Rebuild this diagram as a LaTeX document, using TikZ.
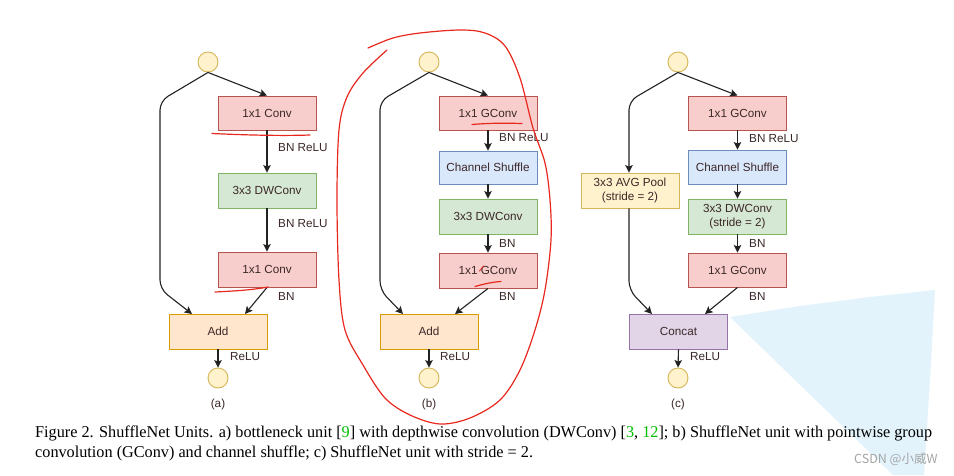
\documentclass[tikz,border=0pt]{standalone}
\usepackage{fontspec}
\setmainfont{Liberation Serif}
\setsansfont{Liberation Sans}
\newfontfamily\cjkfont{Noto Sans CJK SC}
\usetikzlibrary{arrows.meta}
\definecolor{txt}{RGB}{60,40,40}
\definecolor{linec}{RGB}{34,34,34}
\definecolor{pinkF}{HTML}{F8CECC}\definecolor{pinkD}{HTML}{B85450}
\definecolor{greenF}{HTML}{D5E8D4}\definecolor{greenD}{HTML}{82B366}
\definecolor{blueF}{HTML}{DAE8FC}\definecolor{blueD}{HTML}{6C8EBF}
\definecolor{orangeF}{HTML}{FFE6CC}\definecolor{orangeD}{HTML}{D79B00}
\definecolor{yelF}{HTML}{FFF2CC}\definecolor{yelD}{HTML}{D6B656}
\definecolor{purF}{HTML}{E1D5E7}\definecolor{purD}{HTML}{9673A6}
\definecolor{citeg}{RGB}{0,190,0}
\definecolor{redpen}{RGB}{232,40,30}
\definecolor{skyblue}{HTML}{E2F3FC}
\newsavebox\capboxA
\newsavebox\capboxB
\newlength\caplenA
\newcommand\mycapA{Figure 2. ShuffleNet Units. a) bottleneck unit [{\color{citeg}9}] with depthwise convolution (DWConv) [{\color{citeg}3}, {\color{citeg}12}]; b) ShuffleNet unit with pointwise group}
\newcommand\mycapB{convolution (GConv) and channel shuffle; c) ShuffleNet unit with stride = 2.}
\tikzset{
  box/.style={draw, line width=0.9pt, minimum width=98pt, minimum height=34pt, inner sep=0pt,
    font=\sffamily\fontsize{11.7}{13.5}\selectfont, text=txt, align=center},
  pinkbox/.style={box, fill=pinkF, draw=pinkD},
  greenbox/.style={box, fill=greenF, draw=greenD},
  bluebox/.style={box, fill=blueF, draw=blueD},
  orangebox/.style={box, fill=orangeF, draw=orangeD},
  yelbox/.style={box, fill=yelF, draw=yelD},
  purbox/.style={box, fill=purF, draw=purD},
  circ/.style={circle, minimum size=20pt, inner sep=0pt, fill=yelF, draw=yelD, line width=0.9pt},
  lbl/.style={font=\sffamily\fontsize{11.7}{13.5}\selectfont, text=txt, anchor=west, inner sep=0pt},
  sub/.style={font=\sffamily\fontsize{11.7}{13.5}\selectfont, text=txt, inner sep=0pt},
  conn/.style={draw=linec, line width=1.1pt},
  arr/.style={conn, -{Stealth[length=7.5pt,width=7.5pt,inset=1.5pt]}},
  pen/.style={draw=redpen, line width=1.2pt, line cap=round, line join=round}
}
\begin{document}
\sbox\capboxA{\fontsize{16.5}{20}\selectfont\mycapA}%
\sbox\capboxB{\fontsize{16.5}{20}\selectfont\mycapB}%
\setlength\caplenA{\wd\capboxA}%
\pgfmathsetmacro\capsx{897pt/\caplenA}%
\begin{tikzpicture}[x=1pt,y=-1pt]
\useasboundingbox (0,0) rectangle (954,475);
\fill[white] (0,0) rectangle (954,475);
% light blue screen artifact
\fill[skyblue] (730,317) -- (800,306) -- (870,297) -- (935,290) -- (930,380) -- (924,475) -- (893,475) -- cycle;

% ---------- (a) ----------
\node[circ] (a0) at (208,62) {};
\node[pinkbox] (a1) at (267,113) {1x1 Conv};
\node[greenbox, minimum height=35pt] (a2) at (267,190.5) {3x3 DWConv};
\node[pinkbox, minimum height=35pt] (a3) at (267,269.5) {1x1 Conv};
\node[orangebox, minimum height=35pt] (aadd) at (218,331.5) {Add};
\node[circ] (aout) at (218,378) {};
\node[sub] (alab) at (218,404) {(a)};
\coordinate (aL1) at (160,101);
\coordinate (aL2) at (160,289);
\coordinate (aIn) at (192,314);
\coordinate (aIn2) at (245,314);
\draw[arr] (a0.south) -- (a1.north);
\draw[arr, rounded corners=9pt] (a0.south) -- (aL1) -- (aL2) -- (aIn);
\draw[arr] (a1.south) -- (a2.north);
\draw[arr] (a2.south) -- (a3.north);
\draw[arr] (a3.south) -- (aIn2);
\draw[arr] (aadd.south) -- (aout.north);
\node[lbl] (alb1) at (278,148) {BN ReLU};
\node[lbl] (alb2) at (278,224) {BN ReLU};
\node[lbl] (alb3) at (278,296) {BN};
\node[lbl] (alb4) at (230,357) {ReLU};

% ---------- (b) ----------
\node[circ] (b0) at (429,62) {};
\node[pinkbox] (b1) at (488,113) {1x1 GConv};
\node[bluebox, minimum height=33pt] (b2) at (488,167.5) {Channel Shuffle};
\node[greenbox, minimum height=35pt] (b3) at (488,216.5) {3x3 DWConv};
\node[pinkbox, minimum height=35pt] (b4) at (488,270.5) {1x1 GConv};
\node[orangebox, minimum height=35pt] (badd) at (429,331.5) {Add};
\node[circ] (bout) at (429,378) {};
\node[sub] (blab) at (429,404) {(b)};
\coordinate (bL1) at (380,101);
\coordinate (bL2) at (380,290);
\coordinate (bIn) at (403,314);
\coordinate (bIn2) at (455,314);
\draw[arr] (b0.south) -- (b1.north);
\draw[arr, rounded corners=9pt] (b0.south) -- (bL1) -- (bL2) -- (bIn);
\draw[arr] (b1.south) -- (b2.north);
\draw[arr] (b2.south) -- (b3.north);
\draw[arr] (b3.south) -- (b4.north);
\draw[arr] (b4.south) -- (bIn2);
\draw[arr] (badd.south) -- (bout.north);
\node[lbl] (blb1) at (499,138) {BN ReLU};
\node[lbl] (blb2) at (499,243) {BN};
\node[lbl] (blb3) at (499,296) {BN};
\node[lbl] (blb4) at (440,357) {ReLU};

% ---------- (c) ----------
\node[circ] (c0) at (678,62) {};
\node[pinkbox] (c1) at (737.5,113) {1x1 GConv};
\node[bluebox] (c2) at (737.5,167) {Channel Shuffle};
\node[greenbox, minimum height=35pt] (c3) at (737.5,216.5) {3x3 DWConv\\(stride = 2)};
\node[pinkbox] (c4) at (737.5,270) {1x1 GConv};
\node[yelbox, minimum height=35pt] (cpool) at (630,190.5) {3x3 AVG Pool\\(stride = 2)};
\node[purbox, minimum height=35pt] (ccat) at (678.5,331.5) {Concat};
\node[circ] (cout) at (678,378) {};
\node[sub] (clab) at (678,404) {(c)};
\coordinate (cL1) at (629,101);
\coordinate (cL2) at (629,290);
\coordinate (cIn) at (652,314);
\coordinate (cIn2) at (705,314);
\draw[arr] (c0.south) -- (c1.north);
\draw[arr, rounded corners=9pt] (c0.south) -- (cL1) -- (cpool.north -| cL1);
\draw[arr, rounded corners=9pt] (cpool.south -| cL1) -- (cL2) -- (cIn);
\draw[arr] (c1.south) -- (c2.north);
\draw[arr] (c2.south) -- (c3.north);
\draw[arr] (c3.south) -- (c4.north);
\draw[arr] (c4.south) -- (cIn2);
\draw[arr] (ccat.south) -- (cout.north);
\node[lbl] (clb1) at (749,139) {BN ReLU};
\node[lbl] (clb2) at (749,243) {BN};
\node[lbl] (clb3) at (749,296) {BN};
\node[lbl] (clb4) at (690,357) {ReLU};

% ---------- red pen annotations ----------
\draw[pen] (212,133.5) .. controls (245,135) and (280,136) .. (310,135);
\draw[pen] (215,292) .. controls (235,291) and (252,290) .. (268,287);
\draw[pen] (472,124.5) .. controls (490,123) and (505,123) .. (522,123.5);
\draw[pen] (475,286.5) .. controls (484,284) and (492,282) .. (501,281.5);
\draw[pen, line width=0.8pt] (479.5,271) -- (483.5,266);
\draw[pen] plot[smooth, tension=0.55] coordinates {
 (387,50) (363,73) (347,97) (339,130) (337,200) (339,280) (345,330) (363,365)
 (385,398) (410,415) (440,424) (470,418) (500,400) (520,370) (535,330)
 (545,290) (551,240) (550,200) (545,163) (533,128) (520,78) (505,46)
 (485,33) (460,30) (420,33) (393,38) (368,48)};

% ---------- caption ----------
\node[anchor=base west, inner sep=0pt] (cap1) at (35,437) {\scalebox{\capsx}[1]{\usebox\capboxA}};
\node[anchor=base west, inner sep=0pt] (cap2) at (35,457) {\scalebox{\capsx}[1]{\usebox\capboxB}};

% ---------- watermark ----------
\node[anchor=west, inner sep=0pt, text={rgb,255:red,165;green,165;blue,165}, font=\cjkfont\fontsize{12.5}{14}\selectfont] (wm) at (854,459) {CSDN @小威W};
\end{tikzpicture}
\end{document}
